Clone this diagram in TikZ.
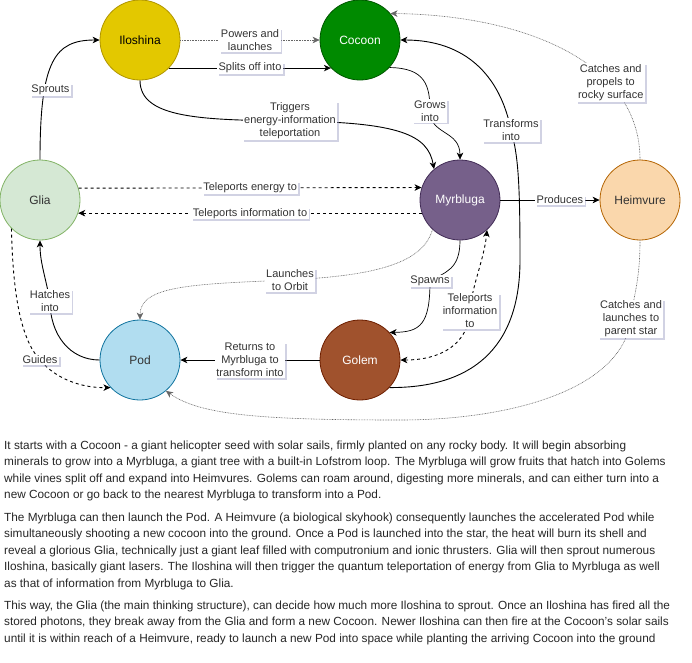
\documentclass[tikz,border=0pt]{standalone}
\usepackage{fontspec}
\setmainfont{Liberation Sans}
\usetikzlibrary{arrows.meta,shadows}
\definecolor{iloF}{HTML}{E3C800}\definecolor{iloD}{HTML}{B09500}
\definecolor{cocF}{HTML}{008A00}\definecolor{cocD}{HTML}{005700}
\definecolor{gliF}{HTML}{D5E8D4}\definecolor{gliD}{HTML}{82B366}
\definecolor{myrF}{HTML}{76608A}\definecolor{myrD}{HTML}{432D57}
\definecolor{heiF}{HTML}{FAD7AC}\definecolor{heiD}{HTML}{B46504}
\definecolor{podF}{HTML}{B1DDF0}\definecolor{podD}{HTML}{10739E}
\definecolor{golF}{HTML}{A0522D}\definecolor{golD}{HTML}{6D1F00}
\definecolor{txt}{HTML}{333333}
\definecolor{shd}{HTML}{9A9CC0}
\begin{document}
\begin{tikzpicture}[x=1pt,y=-1pt,
  circ/.style={circle, minimum size=80pt, inner sep=0pt, line width=0.8pt, font=\fontsize{12}{14}\selectfont},
  lab/.style={fill=white, inner xsep=1.5pt, inner ysep=1.2pt, align=center, text=txt,
     font=\fontsize{11}{13}\selectfont,
     drop shadow={shadow xshift=1.8pt, shadow yshift=-1.8pt, opacity=0.45, fill=shd}},
  tipped/.style={-{Stealth[length=7pt,width=6.5pt,inset=2pt]}},
  solidline/.style={tipped, line width=0.9pt},
  dashline/.style={tipped, line width=0.9pt, dash pattern=on 3pt off 3pt},
  dotline/.style={tipped, line width=0.6pt, draw=black!60, dash pattern=on 0.8pt off 0.8pt},
  body/.style={anchor=base west, inner sep=0pt, text=black!85, font=\fontsize{11.8}{15}\selectfont}
]
\useasboundingbox (0,0) rectangle (692,662);

% nodes
\node[circ, fill=iloF, draw=iloD, text=black] (ilo) at (140,40) {Iloshina};
\node[circ, fill=cocF, draw=cocD, text=white] (coc) at (360,40) {Cocoon};
\node[circ, fill=gliF, draw=gliD, text=txt] (gli) at (40,200) {Glia};
\node[circ, fill=myrF, draw=myrD, text=white] (myr) at (460,200) {Myrbluga};
\node[circ, fill=heiF, draw=heiD, text=txt] (hei) at (640,200) {Heimvure};
\node[circ, fill=podF, draw=podD, text=txt] (pod) at (140,360) {Pod};
\node[circ, fill=golF, draw=golD, text=white] (gol) at (360,360) {Golem};

% edges
\draw[solidline] (gli.north) .. controls (40,60) and (55,40) .. node[lab, pos=0.3, xshift=6]{Sprouts} (ilo.west);
\draw[dotline] (ilo.east) -- node[lab]{Powers and\\launches} (coc.west);
\draw[solidline] (ilo.-44) -- node[lab]{Splits off into} (coc.-136);
\draw[solidline] (ilo.south) .. controls (140,118) and (200,120) .. (290,121)
   node[lab]{Triggers\\energy-information\\teleportation}
   .. controls (400,122) and (428,135) .. (myr.130);
\draw[solidline, line width=0.7pt] (coc.-43) .. controls (425,68) and (430,85) .. (430,111)
   node[lab]{Grows\\into}
   .. controls (430,135) and (460,130) .. (myr.north);
\draw[solidline] (gol.-43) .. controls (470,388) and (520,350) .. (520,260)
   .. controls (520,180) and (518,155) .. (511,130)
   node[lab]{Transforms\\into}
   .. controls (500,75) and (465,40) .. (coc.east);
\draw[dotline] (hei.north) .. controls (640,60) and (520,15) .. node[lab, pos=0.31, xshift=2]{Catches and\\propels to\\rocky surface} (coc.41);
\draw[solidline] (myr.east) -- node[lab, pos=0.6]{Produces} (hei.west);
\draw[dashline] (gli.17.5) -- node[lab]{Teleports energy to} (myr.162.5);
\draw[dashline] (myr.-161) -- node[lab]{Teleports information to} (gli.-19);
\draw[dotline] (myr.-133) .. controls (422,268) and (360,276) .. (290,280)
   node[lab]{Launches\\to Orbit}
   .. controls (190,284) and (140,286) .. (pod.north);
\draw[solidline, line width=0.7pt] (myr.south) .. controls (460,270) and (445,272) .. (430,281)
   node[lab]{Spawns}
   .. controls (430,325) and (420,332) .. (gol.43);
\draw[dashline, {Stealth[length=7pt,width=6.5pt,inset=2pt]}-{Stealth[length=7pt,width=6.5pt,inset=2pt]}]
   (gol.east) .. controls (440,360) and (468,345) .. (470,311)
   node[lab]{Teleports\\information\\to}
   .. controls (472,285) and (484,260) .. (myr.-48);
\draw[solidline] (gol.west) -- node[lab]{Returns to\\Myrbluga to\\transform into} (pod.east);
\draw[solidline] (pod.west) .. controls (70,360) and (50,335) .. (50,301)
   node[lab]{Hatches\\into}
   .. controls (45,275) and (40,262) .. (gli.south);
\draw[dashline] (gli.-135) .. controls (13,300) and (22,340) .. (40,360)
   node[lab]{Guides}
   .. controls (55,378) and (80,388) .. (pod.-137);
\draw[dotline] (hei.south) .. controls (640,285) and (632,300) .. (631,319)
   node[lab]{Catches and\\launches to\\parent star}
   .. controls (622,390) and (510,420) .. (400,420)
   .. controls (260,420) and (200,415) .. (pod.-50);

% body text
\node[body] (t1) at (4,449) {It starts with a Cocoon - a giant helicopter seed with solar sails, firmly planted on any rocky body. It will begin absorbing};
\node[body] (t2) at (4,465.5) {minerals to grow into a Myrbluga, a giant tree with a built-in Lofstrom loop. The Myrbluga will grow fruits that hatch into Golems};
\node[body] (t3) at (4,482) {while vines split off and expand into Heimvures. Golems can roam around, digesting more minerals, and can either turn into a};
\node[body] (t4) at (4,498.5) {new Cocoon or go back to the nearest Myrbluga to transform into a Pod.};
\node[body] (t5) at (4,521) {The Myrbluga can then launch the Pod. A Heimvure (a biological skyhook) consequently launches the accelerated Pod while};
\node[body] (t6) at (4,537.5) {simultaneously shooting a new cocoon into the ground. Once a Pod is launched into the star, the heat will burn its shell and};
\node[body] (t7) at (4,554) {reveal a glorious Glia, technically just a giant leaf filled with computronium and ionic thrusters. Glia will then sprout numerous};
\node[body] (t8) at (4,570.5) {Iloshina, basically giant lasers. The Iloshina will then trigger the quantum teleportation of energy from Glia to Myrbluga as well};
\node[body] (t9) at (4,587) {as that of information from Myrbluga to Glia.};
\node[body] (t10) at (4,609) {This way, the Glia (the main thinking structure), can decide how much more Iloshina to sprout. Once an Iloshina has fired all the};
\node[body] (t11) at (4,625.5) {stored photons, they break away from the Glia and form a new Cocoon. Newer Iloshina can then fire at the Cocoon's solar sails};
\node[body] (t12) at (4,642) {until it is within reach of a Heimvure, ready to launch a new Pod into space while planting the arriving Cocoon into the ground};
\end{tikzpicture}
\end{document}
